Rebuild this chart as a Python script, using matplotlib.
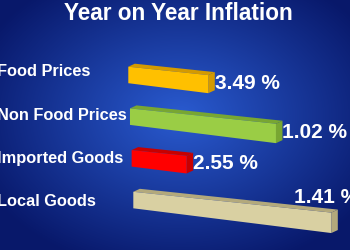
import numpy as np
import matplotlib.pyplot as plt
from matplotlib.patches import Polygon
from matplotlib.colors import to_rgb

categories = ['Food Prices', 'Non Food Prices', 'Imported Goods', 'Local Goods']
values = [3.49, 1.02, 2.55, 1.41]
# drawn bar lengths as they appear in the picture (not to scale with the values)
bar_lengths = [80, 146, 55, 198]
front_colors = ['#ffc000', '#9acd45', '#ff0000', '#d9d0a2']
shade_colors = ['#d49a00', '#78a632', '#c80000', '#b3a97c']

W, H = 350, 250
fig = plt.figure(figsize=(W / 100, H / 100), dpi=100)
ax = fig.add_axes([0, 0, 1, 1])
ax.set_xlim(0, W)
ax.set_ylim(H, 0)
ax.axis('off')

# radial blue background
yy, xx = np.mgrid[0:H, 0:W]
r = np.sqrt(((xx - 180) / 220.0) ** 2 + ((yy - 115) / 160.0) ** 2)
r = np.clip(r, 0, 1)[..., None]
c_in = np.array(to_rgb('#2a5bd0'))
c_out = np.array(to_rgb('#08186a'))
bg = c_in * (1 - r) + c_out * r
ax.imshow(bg, extent=(0, W, H, 0), aspect='auto', zorder=0)

font = 'Liberation Sans'
ax.text(178, 14, 'Year on Year Inflation', color='white', fontsize=16.3,
        fontweight='bold', family=font, ha='center', va='center')

top_slope, bot_slope = 0.105, 0.125
h0 = 16.5
dx, dy = 6.5, 3.0
for i, (cat, val, L, fc, sc) in enumerate(zip(categories, values, bar_lengths,
                                               front_colors, shade_colors)):
    yt0 = 66.7 + 41.7 * i
    x0 = 128.3 + 0.04 * (yt0 - 66.7)
    x1 = x0 + L
    yt1 = yt0 + top_slope * L
    yb0 = yt0 + h0
    yb1 = yb0 + bot_slope * L
    ax.add_patch(Polygon([(x0, yt0), (x0 + dx, yt0 - dy), (x1 + dx, yt1 - dy), (x1, yt1)],
                         closed=True, fc=sc, ec='none', zorder=2))
    ax.add_patch(Polygon([(x1, yt1), (x1 + dx, yt1 - dy), (x1 + dx, yb1 - dy), (x1, yb1)],
                         closed=True, fc=sc, ec='none', zorder=2))
    ax.add_patch(Polygon([(x0, yt0), (x1, yt1), (x1, yb1), (x0, yb0)],
                         closed=True, fc=fc, ec='none', zorder=3))

    ax.text(-3, 72 + 43.3 * i, cat, color='white', fontsize=11.8, fontweight='bold',
            family=font, ha='left', va='center')

    label = f'{val:.2f} %'
    if x1 > 300:
        ax.text(x1 - 37, yt1 - 15, label, color='white', fontsize=15,
                fontweight='bold', family=font, ha='left', va='center')
    else:
        ax.text(x1 + dx, (yt1 + yb1) / 2 - 1, label, color='white', fontsize=15,
                fontweight='bold', family=font, ha='left', va='center')

fig.savefig('out.png', dpi=100)
